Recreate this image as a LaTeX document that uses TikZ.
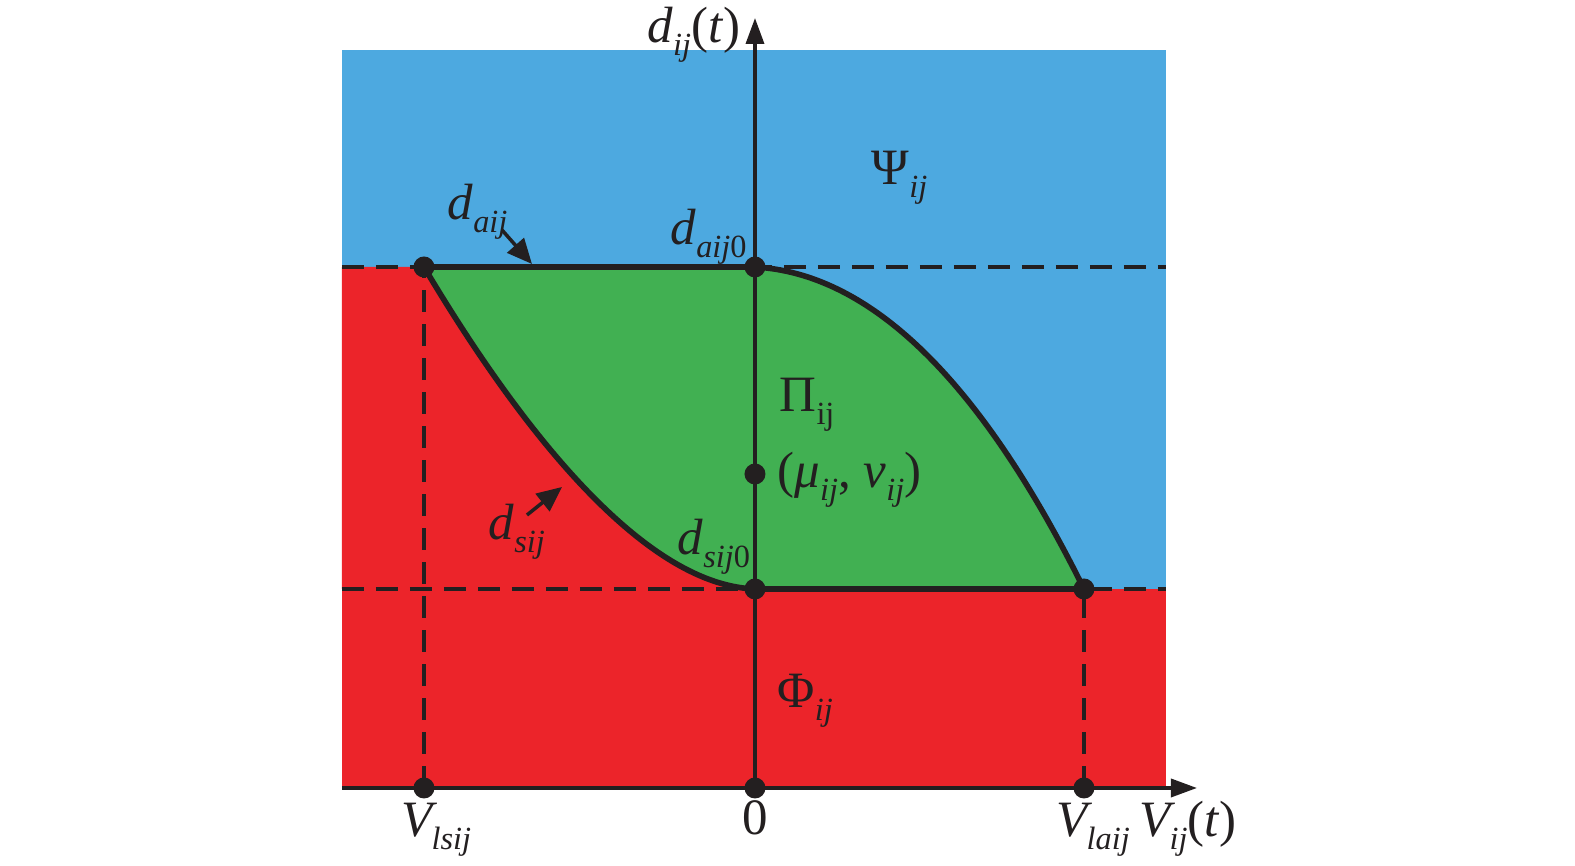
\documentclass[tikz,border=0pt]{standalone}
\usepackage{fontspec}
\setmainfont{Liberation Serif}
\usetikzlibrary{arrows.meta}
\definecolor{zoneblue}{RGB}{77,169,224}
\definecolor{zonered}{RGB}{236,36,42}
\definecolor{zonegreen}{RGB}{65,176,82}
\definecolor{inkblack}{RGB}{35,31,32}
\newcommand{\sbs}[1]{\raisebox{-0.25em}{\fontsize{9.2}{10}\selectfont\itshape #1}}
\newcommand{\sbu}[1]{\raisebox{-0.25em}{\fontsize{9.2}{10}\selectfont #1}}

\begin{document}
\begin{tikzpicture}[every node/.style={font=\fontsize{14.5}{16}\selectfont, inner sep=0pt, text=inkblack},
  axis/.style={inkblack, line width=1pt, -{Triangle[length=0.26cm,width=0.18cm]}},
  bound/.style={inkblack, line width=1.6pt},
  guide/.style={inkblack, line width=0.9pt, dash pattern=on 0.22cm off 0.12cm},
  pointer/.style={inkblack, line width=1pt, -{Triangle[length=0.25cm,width=0.22cm]}},
  dot/.style={circle, fill=inkblack, minimum size=0.21cm}]
	\useasboundingbox (-7.55,-0.78) rectangle (8.20,7.88);
	% key points
	\coordinate (O) at (0,0);
	\coordinate (lsB) at (-3.31,0);
	\coordinate (lsT) at (-3.31,5.21);
	\coordinate (a0) at (0,5.21);
	\coordinate (s0) at (0,1.99);
	\coordinate (laT) at (3.29,1.99);
	\coordinate (laB) at (3.29,0);
	\coordinate (mu) at (0,3.14);
	\coordinate (xstart) at (-4.13,0);
	\coordinate (xend) at (4.42,0);
	\coordinate (yend) at (0,7.70);
	% zones
	\fill[zoneblue] (-4.13,0) rectangle (4.11,7.38);
	\fill[zonered] (-4.13,0) rectangle (4.11,1.99);
	\fill[zonered] (-4.13,1.99) -- (-4.13,5.21) -- (lsT) .. controls (-2.40,3.68) and (-1.15,2.03) .. (s0) -- cycle;
	\fill[zonegreen] (lsT) -- (a0) .. controls (1.45,5.13) and (2.55,3.48) .. (laT) -- (s0)
		.. controls (-1.15,2.03) and (-2.40,3.68) .. (lsT) -- cycle;
	% guide lines
	\draw[guide] (-4.13,5.21) -- (4.11,5.21);
	\draw[guide] (-4.13,1.99) -- (4.11,1.99);
	\draw[guide] (lsB) -- (lsT);
	\draw[guide] (laB) -- (laT);
	% axes
	\draw[axis] (xstart) -- (xend);
	\draw[axis] (O) -- (yend);
	% boundaries
	\draw[bound] (lsT) -- (a0) .. controls (1.45,5.13) and (2.55,3.48) .. (laT) -- (s0)
		.. controls (-1.15,2.03) and (-2.40,3.68) .. (lsT);
	\foreach \p in {lsB,lsT,a0,s0,laT,laB,O,mu}
		\node[dot] at (\p) {};
	% labels
	\node[anchor=base east] (ylab) at (-0.14,7.45) {\textit{d}\sbs{ij}(\textit{t})};
	\node[anchor=base west] (psi) at (1.16,6.03) {Ψ\sbs{ij}};
	\node[anchor=base west] (da) at (-3.08,5.68) {\textit{d}\sbs{aij}};
	\node[anchor=base west] (da0) at (-0.85,5.43) {\textit{d}\sbs{aij}\sbu{0}};
	\node[anchor=base west] (pi) at (0.24,3.76) {Π\sbu{ij}};
	\node[anchor=base west] (mulab) at (0.22,3.00) {(\textit{μ}\sbs{ij}, \textit{v}\sbs{ij})};
	\node[anchor=base west] (ds) at (-2.67,2.48) {\textit{d}\sbs{sij}};
	\node[anchor=base west] (ds0) at (-0.78,2.33) {\textit{d}\sbs{sij}\sbu{0}};
	\node[anchor=base west] (phi) at (0.22,0.80) {Φ\sbs{ij}};
	\node[anchor=base west] (vls) at (-3.54,-0.49) {\textit{V}\kern-0.12em\sbs{lsij}};
	\node[anchor=base] (zero) at (0,-0.47) {0};
	\node[anchor=base west] (vla) at (3.01,-0.49) {\textit{V}\kern-0.12em\sbs{laij}};
	\node[anchor=base west] (xlab) at (3.84,-0.49) {\textit{V}\kern-0.12em\sbs{ij}(\textit{t})};
	\coordinate (daTip) at (-2.23,5.24);
	\coordinate (dsTip) at (-1.93,3.01);
	\draw[pointer] (-2.53,5.58) -- (daTip);
	\draw[pointer] (-2.28,2.73) -- (dsTip);
\end{tikzpicture}
\end{document}
